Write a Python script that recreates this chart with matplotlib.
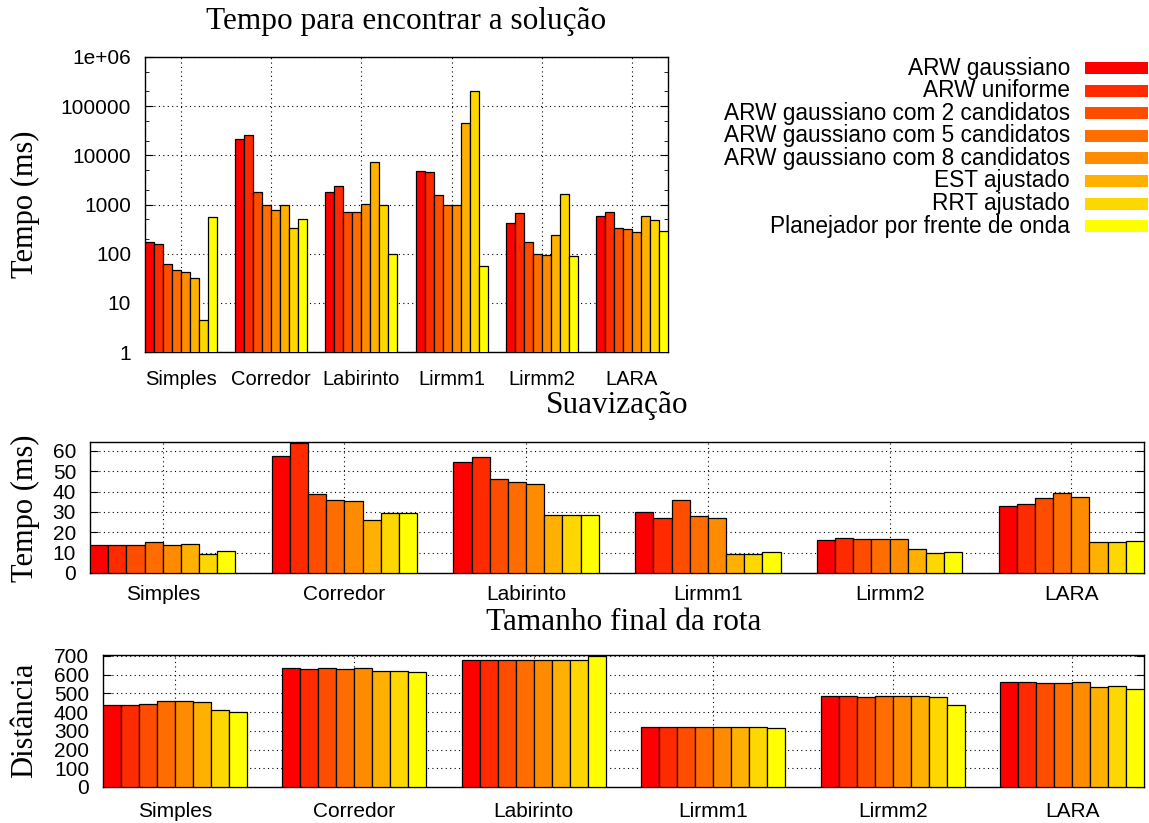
import numpy as np
import matplotlib.pyplot as plt
from matplotlib.patches import Rectangle
from matplotlib.ticker import FixedLocator, NullFormatter

mapas = ["Simples", "Corredor", "Labirinto", "Lirmm1", "Lirmm2", "LARA"]
planejadores = [
    "ARW gaussiano",
    "ARW uniforme",
    "ARW gaussiano com 2 candidatos",
    "ARW gaussiano com 5 candidatos",
    "ARW gaussiano com 8 candidatos",
    "EST ajustado",
    "RRT ajustado",
    "Planejador por frente de onda",
]
cores = ["#ff0000", "#ff2a00", "#ff4d00", "#ff6c00",
         "#ff8c00", "#ffb000", "#ffd700", "#ffff00"]

# one row per map, one value per planner (ms)
tempo_solucao = [
    [170, 160, 62, 46, 42, 31.5, 4.4, 550],
    [21700, 25900, 1780, 990, 770, 960, 330, 500],
    [1820, 2380, 710, 695, 1010, 7200, 1000, 100],
    [4730, 4650, 1590, 980, 980, 44700, 200000, 55],
    [420, 660, 173, 98, 94, 236, 1630, 89],
    [575, 720, 330, 318, 272, 575, 478, 285],
]
# smoothing time (ms)
tempo_suavizacao = [
    [13.7, 13.7, 13.7, 15.0, 14.0, 14.5, 9.2, 10.8],
    [57.6, 64.0, 39.0, 36.0, 35.6, 26.0, 29.7, 29.7],
    [54.4, 56.8, 46.0, 44.8, 43.7, 28.5, 28.4, 28.7],
    [29.8, 26.8, 36.0, 27.9, 27.1, 9.2, 9.4, 10.3],
    [16.1, 17.1, 16.9, 16.6, 16.6, 11.8, 9.8, 10.2],
    [33.1, 33.7, 36.8, 39.5, 37.3, 15.2, 15.0, 15.6],
]
# final path length
distancia = [
    [436, 436, 441, 457, 457, 452, 409, 402],
    [634, 632, 637, 632, 637, 620, 620, 616],
    [677, 679, 677, 680, 677, 679, 679, 700],
    [323, 323, 323, 323, 323, 323, 320, 314],
    [486, 484, 482, 484, 484, 484, 479, 436],
    [559, 559, 554, 554, 559, 532, 537, 521],
]

log_ticks = [1, 10, 100, 1000, 10000, 100000, 1000000]
log_labels = ["1", "10", "100", "1000", "10000", "100000", "1e+06"]

SANS = ["Liberation Sans", "DejaVu Sans"]
SERIF = ["Liberation Serif", "DejaVu Serif"]
plt.rcParams["font.family"] = SANS

W, H = 1149, 823
fig = plt.figure(figsize=(W / 100, H / 100), dpi=100)


def px_axes(left, top, right, bottom):
    return fig.add_axes([left / W, 1 - bottom / H, (right - left) / W, (bottom - top) / H])


def draw_groups(ax, data, xpad=12):
    data = np.array(data, dtype=float)
    n_maps, n_plan = data.shape
    step = n_plan + 2
    base = np.arange(n_maps) * step
    for j in range(n_plan):
        ax.bar(base + j, data[:, j], width=1.0, color=cores[j],
               edgecolor="black", linewidth=0.9, zorder=3)
    ax.set_xlim(-0.5, (n_maps - 1) * step + n_plan - 0.5)
    ax.set_xticks(base + (n_plan - 1) / 2)
    ax.set_xticklabels(mapas)
    ax.tick_params(axis="x", length=0, labelsize=15, pad=xpad)
    ax.tick_params(axis="y", which="both", direction="in", right=True,
                   labelsize=15, pad=10)
    ax.tick_params(axis="y", which="major", length=6)
    ax.tick_params(axis="y", which="minor", length=3)
    ax.grid(True, color="black", linestyle=(0, (1, 3)), linewidth=0.8, zorder=0)
    ax.set_axisbelow(True)
    for sp in ax.spines.values():
        sp.set_linewidth(1.0)


# top: time to find solution (log)
ax1 = px_axes(145, 57, 668, 352)
draw_groups(ax1, tempo_solucao, xpad=13)
ax1.set_yscale("log")
ax1.set_ylim(1, 1e6)
ax1.yaxis.set_major_locator(FixedLocator(log_ticks))
ax1.set_yticklabels(log_labels)
minor = [m * t for t in log_ticks[:-1] for m in (2, 5)]
ax1.yaxis.set_minor_locator(FixedLocator(minor))
ax1.yaxis.set_minor_formatter(NullFormatter())
ax1.tick_params(axis="x", labelsize=14.5)

# middle: smoothing time
ax2 = px_axes(90, 442, 1144, 573)
draw_groups(ax2, tempo_suavizacao, xpad=9)
ax2.set_ylim(0, 64.4)
ax2.set_yticks(range(0, 61, 10))

# bottom: path length
ax3 = px_axes(103, 655, 1144, 787)
draw_groups(ax3, distancia, xpad=11)
ax3.set_ylim(0, 705)
ax3.set_yticks(range(0, 701, 100))

# titles and axis labels
fig.text(406 / W, 1 - 21 / H, "Tempo para encontrar a solução", family=SERIF,
         fontsize=22.5, ha="center", va="center")
fig.text(617 / W, 1 - 405 / H, "Suavização", family=SERIF,
         fontsize=22.5, ha="center", va="center")
fig.text(624 / W, 1 - 622 / H, "Tamanho final da rota", family=SERIF,
         fontsize=22.5, ha="center", va="center")
fig.text(25 / W, 1 - 204 / H, "Tempo (ms)", family=SERIF, fontsize=22,
         rotation=90, ha="center", va="center")
fig.text(25 / W, 1 - 508 / H, "Tempo (ms)", family=SERIF, fontsize=22,
         rotation=90, ha="center", va="center")
fig.text(25 / W, 1 - 720 / H, "Distância", family=SERIF, fontsize=22,
         rotation=90, ha="center", va="center")

# legend (gnuplot style, right aligned text + swatch)
for k, (nome, cor) in enumerate(zip(planejadores, cores)):
    yc = 68 + k * 22.6
    fig.text(1070 / W, 1 - yc / H, nome, fontsize=16.3, ha="right", va="center")
    fig.add_artist(Rectangle((1085 / W, 1 - (yc + 6) / H), 63 / W, 12 / H,
                             transform=fig.transFigure, color=cor, lw=0))

fig.savefig("out.png", dpi=100)
